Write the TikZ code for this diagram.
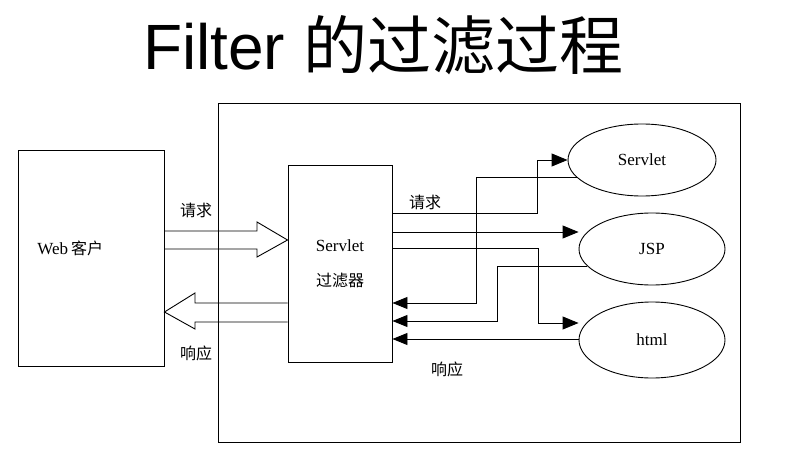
\documentclass[tikz,border=0pt]{standalone}
\usepackage{fontspec}
\setmainfont{Liberation Serif}
\newfontfamily\cjk{Noto Sans CJK SC}
\newfontfamily\titlesans{Liberation Sans}
\usetikzlibrary{arrows.meta,shapes.geometric,calc}
\begin{document}
\begin{tikzpicture}[x=1pt,y=-1pt,
  line width=0.9pt,
  box/.style={draw,rectangle,inner sep=0pt},
  oval/.style={draw,ellipse,inner sep=0pt},
  lbl/.style={font=\fontsize{16}{18}\selectfont\cjk,inner sep=0pt},
  ltx/.style={font=\fontsize{17}{20}\selectfont,inner sep=0pt},
  tip/.style={-{Triangle[length=16pt,width=13pt]}},
  rtip/.style={-{Triangle[length=15pt,width=12pt]}},
  hollow/.style={line join=miter}]
\useasboundingbox (0,0) rectangle (790,460);
% title
\node[anchor=base,inner sep=0pt,font=\fontsize{64}{70}\selectfont] (title) at (383,70)
  {\titlesans Filter \cjk 的过滤过程};
% boxes
\node[box,minimum width=522pt,minimum height=339pt] (outer) at (479,272.5) {};
\node[box,minimum width=146pt,minimum height=216pt] (web) at (91,258) {};
\node[ltx,anchor=west] (webtxt) at (37,248) {Web\,{\cjk\fontsize{16}{18}\selectfont 客户}};
\node[box,minimum width=104pt,minimum height=197pt] (filter) at (340,263.5) {};
\node[ltx] (ftxt1) at (340,246) {Servlet};
\node[lbl] (ftxt2) at (340,280) {过滤器};
\node[oval,minimum width=148pt,minimum height=72pt] (servlet) at (642,160) {};
\node[ltx] at (servlet.center) {Servlet};
\node[oval,minimum width=146pt,minimum height=72pt] (jsp) at (652,249) {};
\node[ltx] at (jsp.center) {JSP};
\node[oval,minimum width=146pt,minimum height=76pt] (html) at (652,340) {};
\node[ltx] at (html.center) {html};
% labels
\node[lbl] (req1) at (196,210) {请求};
\node[lbl] (resp1) at (196,353) {响应};
\node[lbl] (req2) at (425,202) {请求};
\node[lbl] (resp2) at (447,369) {响应};
% hollow arrows
\draw[hollow] (web.east |- 0,231) -- (257,231) -- (257,222) -- (filter.west |- 0,240)
  -- (257,257) -- (257,249) -- (web.east |- 0,249);
\draw[hollow] (filter.west |- 0,303) -- (195,303) -- (195,293) -- (web.east |- 0,312)
  -- (195,329) -- (195,322) -- (filter.west |- 0,322);
% requests
\draw[tip] (filter.east |- 0,213) -- (537,213) -- (537,160) -- (servlet.west);
\draw[tip] (filter.east |- 0,232) -- (jsp.west |- 0,232);
\draw[tip] (filter.east |- 0,248) -- (538,248) -- (538,323) -- (html.west |- 0,323);
% responses
\draw[rtip] (servlet.195) -- (servlet.195 -| 476,0) |- (filter.east |- 0,303);
\draw[rtip] (jsp.195) -- (jsp.195 -| 497,0) |- (filter.east |- 0,321);
\draw[rtip] (html.west |- 0,339) -- (filter.east |- 0,339);
\end{tikzpicture}
\end{document}
